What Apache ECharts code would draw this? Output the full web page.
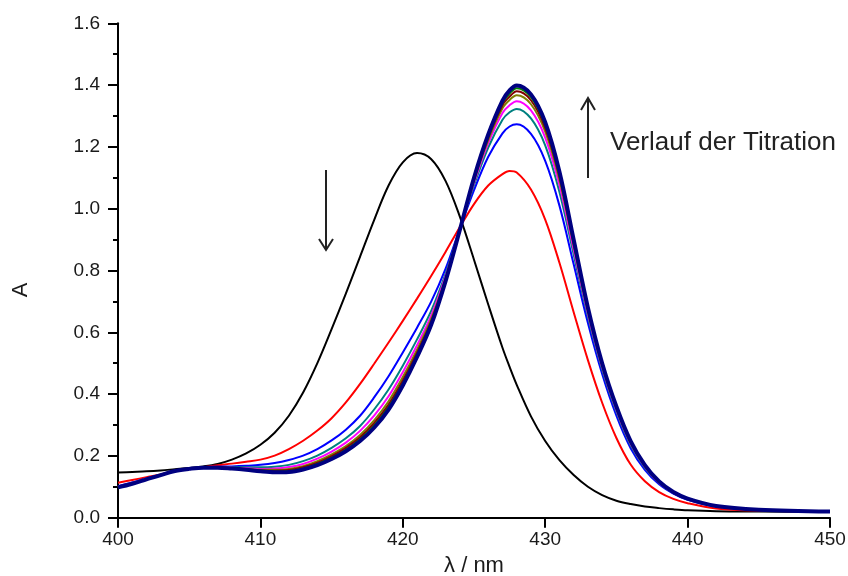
<!DOCTYPE html>
<html>
<head>
<meta charset="utf-8">
<script src="https://cdn.jsdelivr.net/npm/echarts@6/dist/echarts.min.js"></script>
<style>
html,body{margin:0;padding:0;background:#fff;}
#chart{width:848px;height:576px;}
</style>
</head>
<body>
<div id="chart"></div>
<script>
// Wavelength grid (nm)
const wavelengths = [400,401,402,403,404,405,406,407,408,409,410,411,412,413,414,415,416,417,418,419,420,421,422,423,424,425,426,427,427.5,428,429,430,431,432,433,434,435,436,437,438,439,440,442,445,450];

// Absorbance series
const aBlack = [0.146,0.148,0.150,0.153,0.157,0.161,0.166,0.174,0.188,0.208,0.236,0.275,0.330,0.405,0.500,0.610,0.725,0.845,0.965,1.075,1.150,1.180,1.160,1.090,0.975,0.835,0.690,0.550,0.488,0.430,0.328,0.248,0.186,0.138,0.100,0.073,0.055,0.044,0.036,0.031,0.027,0.024,0.021,0.020,0.019];
const aRed = [0.113,0.122,0.131,0.140,0.150,0.158,0.164,0.170,0.175,0.181,0.188,0.201,0.222,0.249,0.282,0.322,0.373,0.433,0.499,0.567,0.637,0.709,0.783,0.860,0.940,1.015,1.075,1.112,1.122,1.117,1.062,0.965,0.825,0.665,0.510,0.372,0.258,0.172,0.118,0.083,0.061,0.047,0.030,0.023,0.020];
const aBlue = [0.102,0.114,0.127,0.139,0.150,0.158,0.163,0.165,0.166,0.168,0.171,0.177,0.187,0.201,0.222,0.250,0.285,0.330,0.390,0.458,0.535,0.615,0.700,0.805,0.935,1.060,1.168,1.244,1.266,1.273,1.242,1.155,1.010,0.820,0.630,0.465,0.330,0.225,0.155,0.108,0.078,0.058,0.036,0.025,0.020];
const aTeal = [0.100,0.112,0.126,0.139,0.150,0.158,0.163,0.164,0.163,0.163,0.163,0.165,0.171,0.183,0.201,0.226,0.257,0.297,0.351,0.415,0.492,0.577,0.670,0.789,0.933,1.076,1.198,1.288,1.312,1.323,1.292,1.205,1.054,0.852,0.650,0.479,0.342,0.234,0.161,0.112,0.080,0.060,0.037,0.025,0.020];
const aMagenta = [0.100,0.112,0.125,0.138,0.151,0.158,0.162,0.163,0.162,0.160,0.158,0.159,0.164,0.174,0.191,0.214,0.243,0.281,0.331,0.393,0.471,0.558,0.655,0.781,0.932,1.084,1.212,1.310,1.335,1.348,1.318,1.230,1.076,0.868,0.660,0.486,0.348,0.239,0.164,0.113,0.081,0.060,0.037,0.026,0.020];
const aOlive = [0.099,0.111,0.125,0.138,0.151,0.158,0.162,0.163,0.161,0.158,0.155,0.155,0.158,0.167,0.183,0.205,0.232,0.268,0.316,0.377,0.455,0.544,0.644,0.775,0.931,1.090,1.222,1.325,1.352,1.367,1.338,1.249,1.093,0.880,0.668,0.491,0.353,0.242,0.166,0.115,0.082,0.061,0.038,0.026,0.020];
const aDarkRed = [0.099,0.111,0.124,0.138,0.151,0.158,0.162,0.162,0.160,0.157,0.153,0.152,0.154,0.163,0.178,0.199,0.226,0.260,0.307,0.366,0.444,0.534,0.636,0.771,0.931,1.094,1.230,1.335,1.363,1.380,1.351,1.261,1.104,0.888,0.673,0.495,0.356,0.245,0.168,0.116,0.082,0.061,0.038,0.026,0.020];
const aGreen = [0.098,0.110,0.124,0.138,0.151,0.158,0.162,0.162,0.159,0.156,0.151,0.149,0.151,0.159,0.174,0.194,0.220,0.254,0.299,0.358,0.435,0.527,0.630,0.768,0.930,1.097,1.235,1.343,1.373,1.390,1.361,1.271,1.112,0.894,0.677,0.498,0.358,0.246,0.169,0.117,0.083,0.062,0.038,0.026,0.020];
const aNavy = [0.098,0.110,0.124,0.138,0.151,0.158,0.162,0.162,0.159,0.155,0.150,0.147,0.148,0.156,0.170,0.190,0.215,0.248,0.292,0.350,0.428,0.520,0.625,0.765,0.930,1.100,1.240,1.350,1.383,1.399,1.370,1.280,1.120,0.900,0.680,0.500,0.360,0.248,0.170,0.117,0.083,0.062,0.038,0.026,0.020];

const xTicks = [400,410,420,430,440,450];
const yTicks = [0.0,0.2,0.4,0.6,0.8,1.0,1.2,1.4,1.6];

const seriesDefs = [
  {name:'S0', data:aBlack, color:'#000000', w:2},
  {name:'S1', data:aRed, color:'#ff0000', w:2},
  {name:'S2', data:aBlue, color:'#0000ff', w:2},
  {name:'S3', data:aTeal, color:'#008080', w:2},
  {name:'S4', data:aMagenta, color:'#ff00ff', w:2},
  {name:'S5', data:aOlive, color:'#808000', w:2},
  {name:'S6', data:aDarkRed, color:'#800000', w:2},
  {name:'S7', data:aGreen, color:'#008000', w:2},
  {name:'S8', data:aNavy, color:'#000080', w:4}
];

const font = 'Liberation Sans, Arial, Helvetica, sans-serif';
const chart = echarts.init(document.getElementById('chart'), null, {renderer:'canvas'});

const option = {
  animation:false,
  backgroundColor:'#ffffff',
  grid:{left:118, right:18, top:23.3, bottom:58.3, containLabel:false, outerBoundsMode:'none'},
  xAxis:{
    type:'value', min:xTicks[0], max:xTicks[xTicks.length-1], interval:10,
    name:'λ / nm', nameLocation:'middle', nameGap:37,
    nameTextStyle:{fontFamily:font, fontSize:22, color:'#1a1a1a'},
    axisLine:{show:true, onZero:false, lineStyle:{color:'#000', width:2}},
    axisTick:{show:true, inside:false, length:10, lineStyle:{color:'#000', width:2}},
    minorTick:{show:false},
    axisLabel:{margin:13, fontFamily:font, fontSize:19, color:'#1a1a1a'},
    splitLine:{show:false}
  },
  yAxis:{
    type:'value', min:yTicks[0], max:yTicks[yTicks.length-1], interval:0.2,
    axisLine:{show:true, onZero:false, lineStyle:{color:'#000', width:2}},
    axisTick:{show:true, inside:false, length:10, lineStyle:{color:'#000', width:2}},
    minorTick:{show:true, splitNumber:2, length:5, lineStyle:{color:'#000', width:2}},
    axisLabel:{margin:18, fontFamily:font, fontSize:19, color:'#1a1a1a', formatter:v=>v.toFixed(1)},
    splitLine:{show:false}
  },
  series: seriesDefs.map(s=>({
    name:s.name, type:'line', showSymbol:false, smooth:0.35,
    data: wavelengths.map((x,i)=>[x, s.data[i]]),
    lineStyle:{color:s.color, width:s.w},
    itemStyle:{color:s.color},
    z:2
  })),
  graphic:[
    {type:'text', x:21, y:290, rotation:Math.PI/2, style:{text:'A', font:'22px ' + font, fill:'#1a1a1a', textAlign:'center', textVerticalAlign:'middle'}},
    {type:'line', shape:{x1:326, y1:170, x2:326, y2:249}, style:{stroke:'#222', lineWidth:2}},
    {type:'polyline', shape:{points:[[319,239],[326,250],[333,239]]}, style:{stroke:'#222', lineWidth:2, fill:null}},
    {type:'line', shape:{x1:588, y1:99, x2:588, y2:178}, style:{stroke:'#222', lineWidth:2}},
    {type:'polyline', shape:{points:[[581,110],[588,98],[595,110]]}, style:{stroke:'#222', lineWidth:2, fill:null}},
    {type:'text', left:610, top:130, style:{text:'Verlauf der Titration', font:'26px ' + font, fill:'#222'}}
  ]
};
chart.setOption(option);
</script>
</body>
</html>
